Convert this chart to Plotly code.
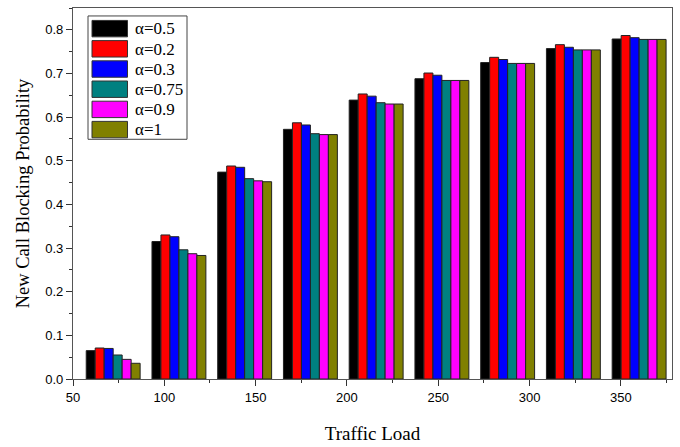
import plotly.graph_objects as go

traffic_load = [72, 108, 144, 180, 216, 252, 288, 324, 360]

series_names = ["α=0.5", "α=0.2", "α=0.3", "α=0.75", "α=0.9", "α=1"]
series_colors = ["#000000", "#FF0000", "#0000FF", "#008080", "#FF00FF", "#808000"]

alpha_05 = [0.065, 0.315, 0.474, 0.572, 0.639, 0.688, 0.725, 0.757, 0.779]
alpha_02 = [0.071, 0.330, 0.488, 0.587, 0.653, 0.701, 0.737, 0.766, 0.787]
alpha_03 = [0.070, 0.326, 0.485, 0.582, 0.648, 0.696, 0.732, 0.760, 0.782]
alpha_075 = [0.055, 0.296, 0.459, 0.562, 0.633, 0.684, 0.723, 0.754, 0.778]
alpha_09 = [0.045, 0.287, 0.454, 0.560, 0.630, 0.684, 0.723, 0.754, 0.778]
alpha_1 = [0.036, 0.283, 0.452, 0.560, 0.630, 0.684, 0.723, 0.754, 0.778]

series_values = [alpha_05, alpha_02, alpha_03, alpha_075, alpha_09, alpha_1]

W, H = 680, 447
ML, MR, MT, MB = 73, 8, 7, 67
PW, PH = W - ML - MR, H - MT - MB


def px_x(px):
    return (px - ML) / PW


def px_y(py):
    return (H - MB - py) / PH


fig = go.Figure()
for name, color, vals in zip(series_names, series_colors, series_values):
    fig.add_trace(go.Bar(
        x=traffic_load, y=vals, name=name,
        marker=dict(color=color, line=dict(color="#222222", width=1)),
        showlegend=False,
    ))

# custom legend box (layout styling)
shapes = [dict(type="rect", xref="paper", yref="paper",
               x0=px_x(88), x1=px_x(187), y0=px_y(139), y1=px_y(15),
               line=dict(color="#444444", width=1), fillcolor="white", layer="above")]
annotations = []
for i, (name, color) in enumerate(zip(series_names, series_colors)):
    top = 19.5 + i * 20.3
    shapes.append(dict(type="rect", xref="paper", yref="paper",
                       x0=px_x(92), x1=px_x(127.5), y0=px_y(top + 16.5), y1=px_y(top),
                       line=dict(color="#333333", width=1), fillcolor=color, layer="above"))
    annotations.append(dict(xref="paper", yref="paper", x=px_x(133), y=px_y(top + 8.5),
                            xanchor="left", yanchor="middle", showarrow=False, text=name,
                            font=dict(family="Liberation Serif, Times New Roman", size=17, color="#000000")))

axis_common = dict(
    showline=True, linecolor="#555555", linewidth=1.2, mirror=True,
    ticks="outside", ticklen=6, tickcolor="#333333", tickwidth=1,
    showgrid=False, zeroline=False,
    tickfont=dict(family="Liberation Sans, Arial", size=13, color="#000000"),
)

fig.update_layout(
    width=W, height=H,
    margin=dict(l=ML, r=MR, t=MT, b=MB),
    paper_bgcolor="white", plot_bgcolor="white",
    barmode="group", bargap=0.18, bargroupgap=0,
    showlegend=False,
    shapes=shapes, annotations=annotations,
    xaxis=dict(
        range=[50, 378], tick0=50, dtick=50,
        minor=dict(dtick=25, ticks="outside", ticklen=3, tickcolor="#333333"),
        title=dict(text="Traffic Load", font=dict(family="Liberation Serif, Times New Roman", size=19, color="#000000"), standoff=22),
        **axis_common,
    ),
    yaxis=dict(
        range=[0, 0.85], tick0=0, dtick=0.1, tickformat=".1f",
        minor=dict(dtick=0.05, ticks="outside", ticklen=3, tickcolor="#333333"),
        title=dict(text="New Call Blocking Probability", font=dict(family="Liberation Serif, Times New Roman", size=18.5, color="#000000"), standoff=10),
        **axis_common,
    ),
)

fig.write_html("out.html")
